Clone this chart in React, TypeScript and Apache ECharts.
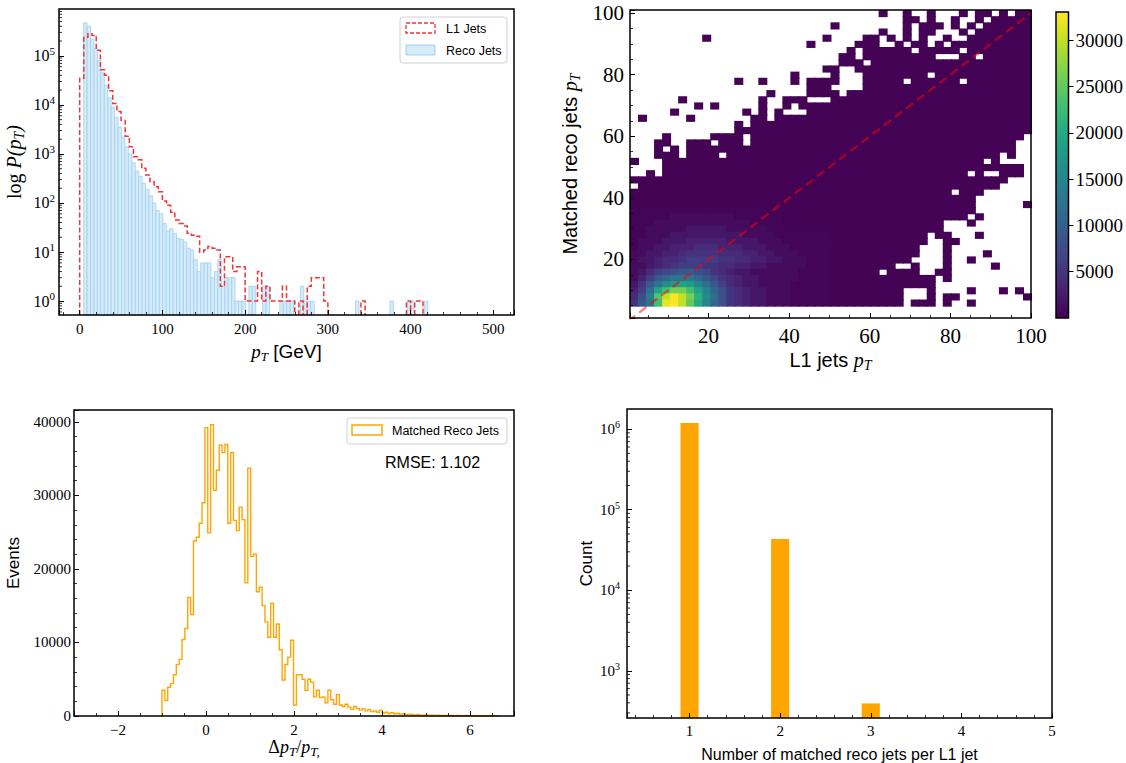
import React, { useEffect, useRef } from 'react';
import * as echarts from 'echarts';

// ---------------- Panel 1: pT distributions (log) ----------------
const L1_BIN_START = 0;
const L1_BIN_WIDTH = 5;
const L1_COUNTS = [
  35000, 240000, 280000, 260000, 130000, 52000, 40000, 19500, 10700, 7300,
  4800, 2300, 1400, 880, 760, 510, 370, 270, 215, 170,
  110, 90, 65, 45, 38, 34, 24, 22, 21, 10,
  11, 13, 12, 11, 2, 8, 8, 4, 5, 5,
  1, 1, 1, 4, 1, 2, 1, 1, 1, 2,
  1, 1, 0, 1, 0, 2, 3, 3, 3, 1,
  0, 0, 0, 0, 0, 0, 0, 0, 1, 0,
  0, 0, 0, 0, 0, 0, 0, 0, 0, 1,
  0, 1, 1, 0, 0, 0, 0, 0, 0, 0,
  0, 0, 0, 0, 0, 0, 0, 0, 0, 0,
];
const RECO_BIN_START = 4.8;
const RECO_BIN_WIDTH = 4.16;
const RECO_COUNTS = [
  470000, 400000, 220000, 140000, 80000, 45000, 25000, 14000, 9000, 5600,
  3500, 2200, 1400, 1000, 660, 450, 350, 250, 190, 140,
  100, 70, 60, 38, 27, 30, 24, 19, 18, 16,
  12, 11, 7, 4, 6, 6, 6, 3, 4, 7,
  2, 3, 3, 3, 1, 1, 1, 0, 2, 2,
  0, 0, 2, 2, 0, 0, 0, 1, 1, 1,
  1, 0, 0, 2, 1, 1, 1, 0, 0, 0,
  0, 0, 0, 0, 0, 0, 0, 0, 0, 1,
  0, 0, 0, 0, 0, 0, 0, 0, 0, 1,
  0, 0, 0, 0, 1, 1, 0, 0, 0, 1,
];

// ---------------- Panel 2: 2D histogram ----------------
const HEAT_X_START = 0.5;
const HEAT_X_BIN = 1.99;
const HEAT_Y_START = 1;
const HEAT_Y_BIN = 2;
// rows from the top y-bin down; '.' empty, '#' low count, '0'..'X' = thousands (base 36)
const HEAT_ROWS = [
  '.........................' + '......#..#..#...#.##.#.##',
  '.........................' + '.........##.#..#..#.#####',
  '.........................' + '#........#.###.#.#.######',
  '.........................' + '......#..#.##...#.#######',
  '.........#..............#' + '....##.#.#.#..#..########',
  '......................#..' + '...###..#.##.#.##########',
  '.........................' + '..#.######.#####.########',
  '.........................' + '.##.#########...##.######',
  '.........................' + '.###.####################',
  '........................#' + '#..######################',
  '....................#....' + '#...########.############',
  '.............#..#...#.###' + '#...#####.######.########',
  '......................###' + '....#####################',
  '.................#....###' + '#.#######################',
  '......#.........#..###...' + '#########################',
  '........#.#.....#..#.####' + '#########################',
  '.....#........#.#.#...###' + '#########################',
  '.#.....#.......##.#######' + '#########################',
  '.............#.##########' + '#########################',
  '.............############' + '#########################',
  '....#.....####.##########' + '########################.',
  '...##..###.###.##########' + '#######################..',
  '...#.#.##################' + '#######################..',
  '...###.####.#############' + '#####################.#..',
  '#...#####################' + '###################.#....',
  '....#####################' + '########################.',
  '..#.#####################' + '#################.#..###.',
  '#########################' + '######################...',
  '.########################' + '#####################....',
  '#########################' + '###############.###......',
  '#########################' + '##################.......',
  '#########################' + '##################......#',
  '0000000000000000000######' + '##################.......',
  '0000011111111000000######' + '#################.#......',
  '0001111111111110000######' + '##############...#.......',
  '0011111222221111100000000' + '##############...........',
  '0011122222222211110000000' + '############.##...#......',
  '0111222333332222111000000' + '############..##.........',
  '0112233344433322211100000' + '###########...#..........',
  '1122334555544433221110000' + '###########...#....#.....',
  '1223445666655443322111000' + '##########....#..#.......',
  '1123456665544332211111000' + '########..#...#.....#....',
  '1246789987543221111110000' + '######.####..##..........',
  '1369BDDDB9754322111110000' + '#############.#..........',
  '259DGIJIFC964322111100000' + '#############............',
  '36CJNQQNJFB85432211100000' + '#########...#....#...#.#.',
  '48EOUXUQLGC85432211100000' + '#########...#.##........#',
  '59DNWXUPKFB85432211100000' + '#########.###.#..#.......',
  '.........................' + '.........................',
  '.........................' + '.........................',
];
const DIAGONAL = [[0, 0], [100, 100]];
const COLOR_MIN = 1;
const COLOR_MAX = 33050;

// ---------------- Panel 3: relative pT difference ----------------
const DPT_BIN_START = -1.0;
const DPT_BIN_WIDTH = 0.065;
const DPT_COUNTS = [
  3500, 2100, 3900, 4400, 5600, 7000, 7700, 10400, 11900, 16100,
  13800, 23800, 24300, 26200, 29000, 39200, 24900, 39600, 30700, 33400,
  36800, 35800, 36900, 26200, 35800, 26600, 25200, 28400, 26700, 18100,
  33700, 21700, 22000, 16900, 17500, 15000, 12800, 10700, 15300, 10700,
  12500, 9000, 4900, 7000, 8000, 10300, 1500, 5600, 5600, 5000,
  3500, 5000, 4600, 2600, 3500, 2500, 2600, 1800, 3500, 2200,
  1600, 2900, 1500, 1300, 1600, 1200, 900, 1300, 1000, 800,
  1000, 700, 900, 600, 700, 500, 800, 400, 500, 350,
  450, 300, 350, 250, 300, 200, 250, 200, 150, 200,
  120, 100, 150, 80, 100, 70, 120, 60, 90, 50,
  80, 60, 40, 70, 50, 40, 60, 30, 50, 40,
  30, 50, 20, 40, 30, 20, 30, 20,
];
const RMSE_TEXT = 'RMSE: 1.102';

// ---------------- Panel 4: matched multiplicity ----------------
const MATCH_N = [1, 2, 3];
const MATCH_COUNTS = [1190000, 43300, 393];
const MATCH_BAR_WIDTH = 0.2;

// ---------------- styling ----------------
const SERIF = "'Liberation Serif', 'DejaVu Serif', serif";
const SANS = "'Liberation Sans', 'DejaVu Sans', sans-serif";
const VIRIDIS = ['#440154', '#482475', '#414487', '#355f8d', '#2a788e', '#21918c', '#22a884', '#44bf70', '#7ad151', '#bddf26', '#fde725'];
const RED = '#ef3535';
const ORANGE = '#ffa500';
const RECO_FILL = '#d6ebf8';
const RECO_EDGE = '#9fd0f2';

const decodeCell = (ch: string) => (ch === '.' ? null : ch === '#' ? 150 : ch === '0' ? 400 : parseInt(ch, 36) * 1000);

function heatData() {
  const out: number[][] = [];
  const n = HEAT_ROWS.length;
  HEAT_ROWS.forEach((row, t) => {
    const r = n - 1 - t;
    for (let c = 0; c < row.length; c++) {
      const v = decodeCell(row[c]);
      if (v != null) out.push([HEAT_X_START + c * HEAT_X_BIN, HEAT_Y_START + r * HEAT_Y_BIN, v]);
    }
  });
  return out;
}

const logMinorTicks = (lo: number, hi: number) => {
  const out: number[] = [];
  for (let e = lo; e <= hi; e++) for (let d = 2; d <= 9; d++) out.push(d * Math.pow(10, e));
  return out;
};

function makeStepRender(binW: number, color: string, width: number, dash: number[] | null) {
  return (params: any, api: any) => {
    if (params.dataIndexInside !== 0) return null;
    const cs = params.coordSys;
    const bottom = cs.y + cs.height;
    const n = params.dataInsideLength;
    const refV = api.value(1, 0);
    const lines: number[][][] = [];
    let cur: number[][] = [];
    let prevY = bottom;
    let lastX = 0;
    for (let i = 0; i < n; i++) {
      const x0 = api.value(0, i);
      const c = api.value(1, i);
      const X0 = api.coord([x0, refV])[0];
      const X1 = api.coord([x0 + binW, refV])[0];
      const y = c > 0 ? Math.min(api.coord([x0, c])[1], bottom) : bottom;
      if (cur.length === 0) cur.push([X0, prevY]);
      cur.push([X0, y]);
      if (c > 0) cur.push([X1, y]);
      else {
        if (prevY !== bottom && cur.length > 1) lines.push(cur);
        cur = [];
      }
      prevY = y;
      lastX = X1;
    }
    if (cur.length) {
      cur.push([lastX, bottom]);
      lines.push(cur);
    }
    return {
      type: 'group',
      children: lines.map((pts) => ({
        type: 'polyline',
        shape: { points: pts },
        style: { stroke: color, fill: 'none', lineWidth: width, lineDash: dash },
      })),
    };
  };
}

const minorTickRender = (params: any, api: any) => {
  const cs = params.coordSys;
  const y = api.coord([api.value(0), api.value(1)])[1];
  if (y < cs.y + 1 || y > cs.y + cs.height - 1) return null;
  return { type: 'line', shape: { x1: cs.x, y1: y, x2: cs.x + 3, y2: y }, style: { stroke: '#000', lineWidth: 0.8 } };
};

const nameRich = (size: number) => ({
  rm: { fontFamily: SERIF, fontSize: size, color: '#000' },
  it: { fontFamily: SERIF, fontStyle: 'italic', fontSize: size, color: '#000' },
  sub: { fontFamily: SERIF, fontStyle: 'italic', fontSize: Math.round(size * 0.7), color: '#000', padding: [Math.round(size * 0.5), 0, 0, 0] },
  sf: { fontFamily: SANS, fontSize: size, color: '#000' },
});

const logLabel = (size: number, margin: number) => ({
  formatter: (v: number) => `{b|10}{s|${Math.round(Math.log10(v))}}`,
  margin,
  showMinLabel: false,
  showMaxLabel: false,
  rich: {
    b: { fontFamily: SERIF, fontSize: size, color: '#000' },
    s: { fontFamily: SERIF, fontSize: Math.round(size * 0.68), color: '#000', padding: [0, 0, Math.round(size * 0.6), 0] },
  },
});

const plainNum = (v: number) => (v < 0 ? '\u2212' + String(Math.abs(v)) : String(v));

const serifLabel = (size: number, margin: number, extra: any = {}) => ({
  formatter: (v: number) => `{v|${plainNum(v)}}`,
  margin,
  rich: { v: { fontFamily: SERIF, fontSize: size, color: '#000' } },
  ...extra,
});

function axisBase(extra: any) {
  return {
    axisLine: { show: false, onZero: false },
    axisTick: { show: true, inside: true, length: 5, lineStyle: { color: '#000', width: 1 } },
    minorTick: { show: false },
    splitLine: { show: false },
    minorSplitLine: { show: false },
    z: 10,
    ...extra,
  };
}

const minor = (n: number) => ({ show: true, splitNumber: n, length: 3, lineStyle: { color: '#000', width: 0.8 } });

function buildOption() {
  const GRIDS = [
    { left: 59, top: 9, width: 455, height: 306 },
    { left: 630, top: 10, width: 401, height: 308 },
    { left: 1056, top: 12, width: 17, height: 306 },
    { left: 74, top: 410, width: 440, height: 306 },
    { left: 627, top: 409, width: 425, height: 309 },
  ];

  const xAxis = [
    axisBase({
      type: 'value', gridIndex: 0, min: -25, max: 525, splitNumber: 5,
      minorTick: minor(5),
      axisLabel: serifLabel(15, 6, { showMinLabel: false, showMaxLabel: false }),
      name: '{it|p}{sub|T}{sf| [GeV]}', nameLocation: 'middle', nameGap: 25,
      nameTextStyle: { rich: nameRich(19) },
    }),
    axisBase({
      type: 'value', gridIndex: 1, min: HEAT_X_START, max: 100, splitNumber: 5,
      minorTick: minor(4),
      axisLabel: serifLabel(21, 7, { showMinLabel: false }),
      name: '{sf|L1 jets }{it|p}{sub|T}', nameLocation: 'middle', nameGap: 30,
      nameTextStyle: { rich: nameRich(20) },
    }),
    { type: 'value', gridIndex: 2, min: 0, max: 1, show: false },
    axisBase({
      type: 'value', gridIndex: 3, min: -3, max: 7, splitNumber: 5,
      minorTick: minor(4),
      axisLabel: serifLabel(15, 6, { showMinLabel: false, showMaxLabel: false }),
      name: '{rm|\u0394}{it|p}{sub|T}{rm|/}{it|p}{sub|T,}', nameLocation: 'middle', nameGap: 20,
      nameTextStyle: { rich: nameRich(18) },
    }),
    axisBase({
      type: 'value', gridIndex: 4, min: 0.31, max: 5, splitNumber: 5,
      minorTick: minor(5),
      axisLabel: serifLabel(15, 5, { showMinLabel: false }),
      name: 'Number of matched reco jets per L1 jet', nameLocation: 'middle', nameGap: 28,
      nameTextStyle: { fontFamily: SANS, fontSize: 16, color: '#000' },
    }),
  ];

  const yAxis = [
    axisBase({
      type: 'log', logBase: 10, gridIndex: 0, min: 0.52, max: 9e5,
      axisLabel: logLabel(16, 4),
      name: '{rm|log }{it|P(p}{sub|T}{it|)}', nameLocation: 'middle', nameGap: 33,
      nameTextStyle: { rich: nameRich(20) },
    }),
    axisBase({
      type: 'value', gridIndex: 1, min: HEAT_Y_START, max: 101, splitNumber: 5,
      minorTick: minor(4),
      axisLabel: serifLabel(21, 6, { showMinLabel: false, showMaxLabel: false }),
      name: '{sf|Matched reco jets }{it|p}{sub|T}', nameLocation: 'middle', nameGap: 48,
      nameTextStyle: { rich: nameRich(20) },
    }),
    axisBase({
      type: 'value', gridIndex: 2, position: 'right', min: COLOR_MIN, max: COLOR_MAX, splitNumber: 6,
      axisTick: { show: true, inside: false, length: 5, lineStyle: { color: '#000', width: 1 } },
      axisLabel: serifLabel(19, 7, { showMinLabel: false, showMaxLabel: false }),
    }),
    axisBase({
      type: 'value', gridIndex: 3, min: 0, max: 41600, splitNumber: 4,
      minorTick: minor(5),
      axisLabel: serifLabel(15, 3, { showMaxLabel: false }),
      name: 'Events', nameLocation: 'middle', nameGap: 52,
      nameTextStyle: { fontFamily: SANS, fontSize: 17, color: '#000' },
    }),
    axisBase({
      type: 'log', logBase: 10, gridIndex: 4, min: 259, max: 1.78e6,
      axisLabel: logLabel(15, 7),
      name: 'Count', nameLocation: 'middle', nameGap: 32,
      nameTextStyle: { fontFamily: SANS, fontSize: 17, color: '#000' },
    }),
  ];

  const series: any[] = [
    {
      type: 'custom', name: 'Reco Jets', xAxisIndex: 0, yAxisIndex: 0, z: 2,
      dimensions: ['x', 'y'], encode: { x: 0, y: 1 },
      data: RECO_COUNTS.map((c, i) => [RECO_BIN_START + i * RECO_BIN_WIDTH, c]),
      renderItem: (params: any, api: any) => {
        const x0 = api.value(0);
        const c = api.value(1);
        if (!(c > 0)) return null;
        const cs = params.coordSys;
        const bottom = cs.y + cs.height;
        const p0 = api.coord([x0, c]);
        const p1 = api.coord([x0 + RECO_BIN_WIDTH, c]);
        return {
          type: 'rect',
          shape: { x: p0[0], y: p0[1], width: p1[0] - p0[0], height: bottom - p0[1] },
          style: { fill: RECO_FILL, stroke: RECO_EDGE, lineWidth: 0.8 },
        };
      },
    },
    {
      type: 'custom', name: 'L1 Jets', xAxisIndex: 0, yAxisIndex: 0, z: 3,
      dimensions: ['x', 'y'], encode: { x: 0, y: 1 },
      data: L1_COUNTS.map((c, i) => [L1_BIN_START + i * L1_BIN_WIDTH, c]),
      renderItem: makeStepRender(L1_BIN_WIDTH, RED, 1.5, [5, 2.5]),
    },
    {
      type: 'custom', xAxisIndex: 0, yAxisIndex: 0, z: 11, silent: true,
      dimensions: ['x', 'y'], encode: { x: 0, y: 1 },
      data: logMinorTicks(-1, 5).map((v) => [-25, v]),
      renderItem: minorTickRender,
    },
    {
      type: 'custom', name: 'heat', xAxisIndex: 1, yAxisIndex: 1, z: 2,
      dimensions: ['x', 'y', 'count'], encode: { x: 0, y: 1 },
      data: heatData(),
      renderItem: (params: any, api: any) => {
        const x0 = api.value(0);
        const y0 = api.value(1);
        const p0 = api.coord([x0, y0 + HEAT_Y_BIN]);
        const p1 = api.coord([x0 + HEAT_X_BIN, y0]);
        return {
          type: 'rect',
          shape: { x: p0[0], y: p0[1], width: p1[0] - p0[0] + 1, height: p1[1] - p0[1] + 1 },
          style: { fill: api.visual('color') },
        };
      },
    },
    {
      type: 'line', xAxisIndex: 1, yAxisIndex: 1, z: 5, silent: true,
      data: DIAGONAL, showSymbol: false, symbol: 'none', clip: true,
      lineStyle: { color: 'rgba(255,0,0,0.5)', width: 2.4, type: [9, 5] },
    },
    {
      type: 'custom', xAxisIndex: 2, yAxisIndex: 2, z: 2, silent: true,
      dimensions: ['x', 'y'], encode: { x: 0, y: 1 },
      data: [[0.5, COLOR_MIN]],
      renderItem: (params: any) => {
        const cs = params.coordSys;
        return {
          type: 'rect',
          shape: { x: cs.x, y: cs.y, width: cs.width, height: cs.height },
          style: {
            fill: new echarts.graphic.LinearGradient(0, 1, 0, 0,
              VIRIDIS.map((c, i) => ({ offset: i / (VIRIDIS.length - 1), color: c }))),
          },
        };
      },
    },
    {
      type: 'custom', name: 'Matched Reco Jets', xAxisIndex: 3, yAxisIndex: 3, z: 3,
      dimensions: ['x', 'y'], encode: { x: 0, y: 1 },
      data: DPT_COUNTS.map((c, i) => [DPT_BIN_START + i * DPT_BIN_WIDTH, c]),
      renderItem: makeStepRender(DPT_BIN_WIDTH, ORANGE, 1.4, null),
    },
    {
      type: 'custom', name: 'matches', xAxisIndex: 4, yAxisIndex: 4, z: 3,
      dimensions: ['x', 'y'], encode: { x: 0, y: 1 },
      data: MATCH_N.map((n, i) => [n, MATCH_COUNTS[i]]),
      renderItem: (params: any, api: any) => {
        const x = api.value(0);
        const c = api.value(1);
        const cs = params.coordSys;
        const bottom = cs.y + cs.height;
        const p0 = api.coord([x - MATCH_BAR_WIDTH / 2, c]);
        const p1 = api.coord([x + MATCH_BAR_WIDTH / 2, c]);
        return {
          type: 'rect',
          shape: { x: p0[0], y: p0[1], width: p1[0] - p0[0], height: bottom - p0[1] },
          style: { fill: ORANGE },
        };
      },
    },
    {
      type: 'custom', xAxisIndex: 4, yAxisIndex: 4, z: 11, silent: true,
      dimensions: ['x', 'y'], encode: { x: 0, y: 1 },
      data: logMinorTicks(2, 6).map((v) => [1, v]),
      renderItem: minorTickRender,
    },
  ];

  const txt = (x: number, y: number, text: string, size: number) => ({
    type: 'text', x, y, z: 20,
    style: { text, fill: '#000', fontFamily: SANS, fontSize: size, align: 'left', verticalAlign: 'middle', textAlign: 'left', textVerticalAlign: 'middle' },
  });

  const graphic = [
    { type: 'rect', z: 19, shape: { x: 400, y: 17, width: 107, height: 46, r: 3 }, style: { fill: 'rgba(255,255,255,0.8)', stroke: '#d0d0d0', lineWidth: 1 } },
    { type: 'rect', z: 20, shape: { x: 406, y: 23, width: 29, height: 10 }, style: { fill: 'none', stroke: RED, lineWidth: 1.3, lineDash: [4, 2] } },
    txt(446, 28.5, 'L1 Jets', 12.5),
    { type: 'rect', z: 20, shape: { x: 406, y: 45, width: 29, height: 10 }, style: { fill: RECO_FILL, stroke: RECO_EDGE, lineWidth: 1 } },
    txt(446, 50.5, 'Reco Jets', 12.5),
    { type: 'rect', z: 19, shape: { x: 347, y: 418, width: 160, height: 26, r: 3 }, style: { fill: 'rgba(255,255,255,0.8)', stroke: '#d0d0d0', lineWidth: 1 } },
    { type: 'rect', z: 20, shape: { x: 352, y: 425, width: 30, height: 10 }, style: { fill: 'none', stroke: ORANGE, lineWidth: 1.5 } },
    txt(392, 430.5, 'Matched Reco Jets', 12.5),
    txt(385, 462, RMSE_TEXT, 16),
  ];

  return {
    animation: false,
    backgroundColor: '#fff',
    grid: GRIDS.map((g) => ({ ...g, show: true, borderColor: '#000', borderWidth: 1.5, backgroundColor: 'transparent', z: 10 })),
    xAxis,
    yAxis,
    visualMap: {
      type: 'continuous', show: false, seriesIndex: 3, dimension: 2,
      min: COLOR_MIN, max: COLOR_MAX, inRange: { color: VIRIDIS },
    },
    series,
    graphic,
  };
}

export default function App() {
  const ref = useRef<HTMLDivElement>(null);
  useEffect(() => {
    if (!ref.current) return;
    const chart = echarts.init(ref.current, null, { renderer: 'svg' });
    chart.setOption(buildOption() as any);
    return () => chart.dispose();
  }, []);
  return (
    <div
      ref={ref}
      style={{ position: 'fixed', left: 0, top: 0, width: 1126, height: 763, background: '#fff' }}
    />
  );
}
